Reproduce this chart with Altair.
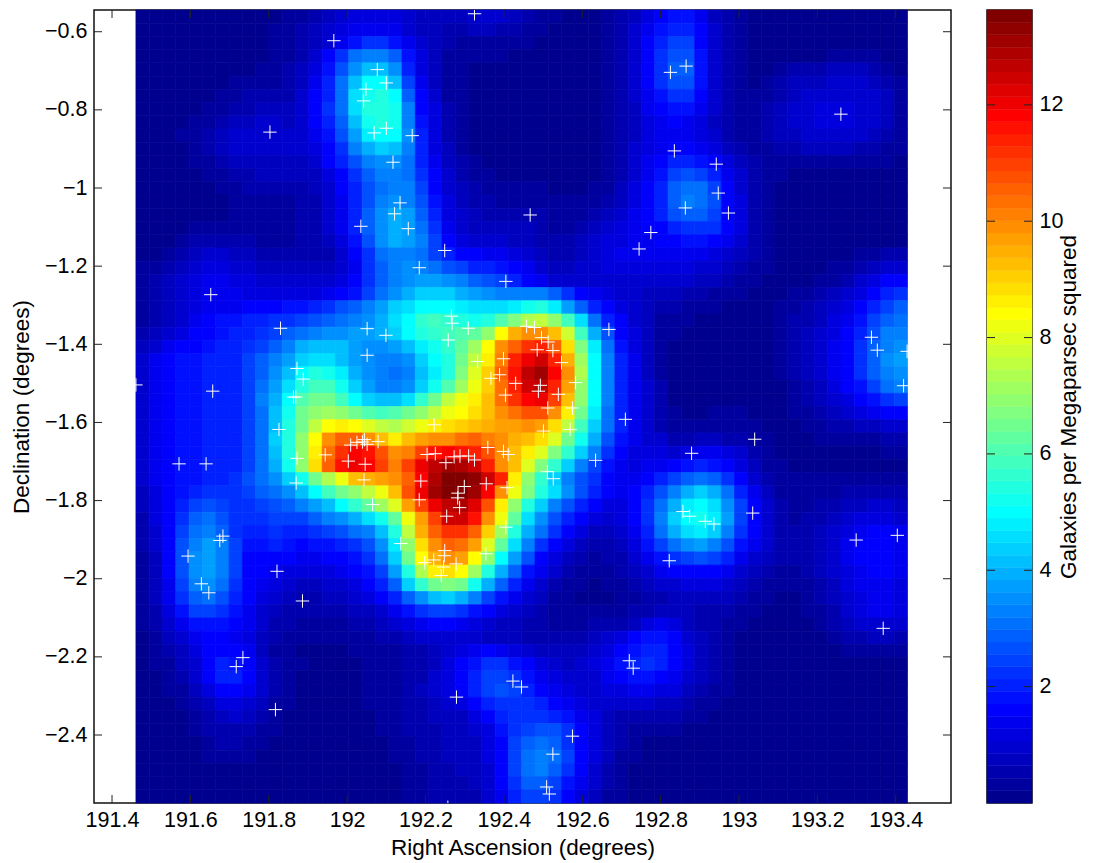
import altair as alt
import pandas as pd

ra_tick_values = [191.4, 191.6, 191.8, 192.0, 192.2, 192.4, 192.6, 192.8, 193.0, 193.2, 193.4]
dec_tick_values = [-0.6, -0.8, -1.0, -1.2, -1.4, -1.6, -1.8, -2.0, -2.2, -2.4]
bar_tick_values = [2, 4, 6, 8, 10, 12]

RA_DOMAIN = [191.354, 193.541]
DEC_DOMAIN = [-2.574, -0.5444]
IMG_RA = [191.461, 193.430]
BAR_DOMAIN = [0, 13.63]

galaxy_ra = [192.325,191.966,192.077,192.100,192.048,192.042,192.100,192.069,192.166,192.117,192.135,192.121,192.156,192.035,192.249,192.184,192.405,191.803,191.652,192.467,192.825,192.865,193.260,192.835,192.942,192.947,192.863,192.973,192.775,192.745,191.830,192.051,192.099,192.051,191.872,191.888,191.863,191.869,191.657,191.461,191.826,192.009,192.025,192.039,192.044,192.051,192.079,191.944,192.003,192.046,192.204,191.571,191.640,191.872,191.870,192.043,192.188,192.184,192.065,191.683,191.675,191.594,192.137,192.198,191.821,191.628,191.647,191.886,191.734,191.717,191.817,192.279,192.240,192.266,192.268,192.309,192.258,192.458,192.478,192.496,192.513,192.485,192.525,192.668,192.399,192.333,192.547,192.389,192.367,192.583,192.430,192.493,192.488,192.539,192.404,192.512,192.575,192.222,192.501,192.569,192.710,192.359,192.399,192.411,192.225,192.252,192.273,192.288,192.310,192.325,192.634,192.511,192.526,192.299,192.355,192.408,192.283,192.282,192.287,192.254,192.405,192.249,192.248,192.354,192.221,192.246,192.278,192.822,193.338,193.353,193.429,193.420,193.040,192.879,192.857,192.874,192.914,192.936,193.035,193.299,193.404,193.368,192.423,192.445,192.720,192.730,192.575,192.525,192.509,192.516,192.257]
galaxy_dec = [-0.554,-0.623,-0.697,-0.731,-0.747,-0.777,-0.847,-0.859,-0.866,-0.934,-1.038,-1.066,-1.104,-1.098,-1.160,-1.204,-1.239,-0.857,-1.273,-1.069,-0.704,-0.688,-0.811,-0.905,-0.939,-1.013,-1.051,-1.064,-1.114,-1.156,-1.359,-1.360,-1.377,-1.428,-1.462,-1.489,-1.535,-1.535,-1.520,-1.504,-1.618,-1.658,-1.651,-1.650,-1.644,-1.656,-1.649,-1.683,-1.699,-1.707,-1.682,-1.706,-1.706,-1.692,-1.755,-1.747,-1.750,-1.798,-1.810,-1.891,-1.902,-1.942,-1.910,-1.959,-1.981,-2.013,-2.036,-2.057,-2.202,-2.225,-2.335,-2.303,-1.992,-1.328,-1.346,-1.359,-1.389,-1.354,-1.357,-1.383,-1.394,-1.414,-1.416,-1.362,-1.437,-1.444,-1.447,-1.478,-1.487,-1.498,-1.500,-1.505,-1.520,-1.528,-1.530,-1.563,-1.563,-1.606,-1.622,-1.618,-1.592,-1.664,-1.674,-1.682,-1.680,-1.703,-1.688,-1.686,-1.686,-1.696,-1.697,-1.726,-1.744,-1.764,-1.757,-1.767,-1.781,-1.793,-1.818,-1.840,-1.868,-1.928,-1.941,-1.936,-1.952,-1.970,-1.962,-1.954,-1.382,-1.415,-1.418,-1.506,-1.643,-1.679,-1.828,-1.840,-1.853,-1.860,-1.832,-1.901,-1.889,-2.127,-2.262,-2.277,-2.210,-2.229,-2.403,-2.449,-2.533,-2.551,-2.585]

density_rows = [
[.2]*10+[.2,.3,.4,.6,.8,1,1.1,1.2,1.2,1.1, .9,.8,.7,.7,.8,1,1,.9,.7,.5, .4,.3,.2,.2,.2,.3,.5,.7,1.1,1.5, 1.8,1.8,1.3,.8,.5,.3,.2,.2,.2,.2]+[.2]*8,
[.2]*10+[.3,.4,.5,.7,.9,1.1,1.3,1.4,1.4,1.3, 1,.8,.7,.6,.6,.7,.7,.6,.5,.4, .3,.2,.2,.2,.2,.3,.5,.9,1.3,1.8, 2.1,2.1,1.5,.9,.5,.3,.2,.2,.2,.2]+[.2]*8,
[.2]*10+[.3,.4,.5,.8,1,1.4,1.8,2.2,2.2,1.9, 1.4,1,.7,.5,.4,.4,.4,.4,.3,.3, .2,.2,.2,.2,.2,.3,.5,.9,1.5,2, 2.4,2.4,1.7,1,.5,.3,.2,.2,.2,.2]+[.2]*8,
[.2]*10+[.3,.4,.6,.9,1.6,2.2,3,3.3,3.3,2.8, 1.8,1.1,.8,.4,.3,.3,.3,.3,.2,.2, .2,.2,.2,.2,.2,.3,.5,1,1.7,2.2, 2.7,2.7,1.8,1,.5,.3,.2,.2,.2,.2, .2,.2,.3,.3,.3,.3,.2,.2],
[.2]*9+[.3, .3,.5,.7,1.1,1.9,2.7,3.6,4.2,4.2,3.5, 2,1.2,.8,.4,.3,.2,.2,.2,.2,.2, .2,.2,.2,.2,.2,.3,.5,1,1.7,2.2, 2.8,2.8,1.9,1,.5,.3,.2,.2,.3,.5, .6,.6,.7,.7,.7,.6,.4,.2],
[.2]*7+[.3,.4,.4, .4,.5,.8,1.3,2,3,4.2,5,5,4.2, 2.4,1.3,.8,.4,.3,.2,.2,.2,.2,.2, .2,.2,.2,.2,.2,.3,.5,1,1.6,2.2, 2.6,2.6,1.8,1,.5,.3,.2,.3,.5,.7, .8,.8,.9,.9,.9,.8,.6,.3],
[.2]*6+[.3,.4,.5,.6, .6,.6,.9,1.5,2.1,3,4.5,5.3,5.5,4.9, 2.9,1.5,.9,.4,.3,.2,.2,.2,.2,.2, .2,.2,.2,.2,.2,.3,.5,.9,1.4,1.9, 2.2,2.2,1.6,.9,.5,.3,.3,.4,.6,.8, .9,1,1,1,1,.9,.7,.4],
[.2,.2,.2,.2,.2,.3,.4,.5,.6,.7, .7,.7,1,1.6,2.2,3,4.5,5.4,5.5,5.2, 3.2,1.7,1.1,.5,.3,.2,.2,.2,.2,.2, .2,.2,.2,.2,.2,.3,.5,.8,1.3,1.7, 1.8,1.8,1.3,.9,.5,.3,.4,.5,.7,.9, 1,1.1,1.2,1.1,1,.9,.7,.4],
[.2,.2,.2,.2,.3,.4,.6,.7,.8,.9, .9,.8,1,1.6,2.1,2.8,4.2,5.2,5.4,5.2, 3.4,1.8,1.1,.5,.3,.2,.2,.2,.2,.2, .2,.2,.2,.2,.2,.3,.5,.8,1.1,1.4, 1.5,1.4,1.1,.8,.5,.4,.4,.5,.7,.9, 1,1.1,1.1,1.1,1,.9,.7,.4],
[.2,.2,.2,.3,.4,.5,.7,.9,1,1, 1,.9,1,1.4,1.9,2.6,3.8,4.8,5.1,4.9, 3.5,2,1.2,.6,.3,.2,.2,.2,.2,.2, .2,.2,.2,.2,.2,.3,.5,.8,1.1,1.3, 1.4,1.4,1.2,.9,.6,.4,.4,.5,.7,.8, .9,1,1,1,.9,.8,.6,.3],
[.2,.2,.2,.2,.3,.5,.7,.9,1,1, .9,.9,.9,1.1,1.7,2.3,3.2,4,4.4,4.2, 3.2,2,1.2,.7,.4,.2,.2,.2,.2,.2, .2,.2,.2,.2,.2,.3,.5,.9,1.2,1.4, 1.6,1.6,1.4,1.1,.8,.5,.4,.4,.5,.6, .7,.7,.7,.7,.6,.5,.4,.3],
[.2,.2,.2,.2,.3,.4,.6,.7,.8,.8, .8,.8,.8,1,1.5,2,2.7,3.3,3.6,3.6, 3,2,1.3,.8,.5,.3,.2,.2,.2,.2, .2,.2,.2,.2,.2,.3,.5,.9,1.3,1.6, 2,2,1.8,1.5,1.1,.7,.5,.4,.3,.3, .3,.3,.3,.3,.3,.3,.3,.2],
[.2,.2,.2,.2,.2,.3,.4,.5,.6,.7, .7,.7,.7,.8,1.2,1.7,2.3,2.9,3.2,3.3, 3,2.2,1.6,.9,.6,.4,.3,.2,.2,.2, .2,.2,.2,.2,.2,.3,.6,1,1.4,1.9, 2.4,2.7,2.5,2,1.4,.9,.6,.4,.3,.2]+[.2]*8,
[.2,.2,.2,.2,.2,.2,.3,.4,.5,.5, .5,.5,.6,.7,1,1.5,2.1,2.7,3.1,3.4, 3.2,2.4,1.7,1,.7,.5,.4,.3,.3,.3, .3,.2,.2,.2,.3,.4,.7,1.1,1.5,2.1, 2.8,3.1,3,2.4,1.6,1,.6,.4,.2,.2]+[.2]*8,
[.2,.2,.2,.2,.2,.2,.2,.3,.4,.4, .4,.4,.5,.6,.9,1.4,2,2.7,3.3,3.6, 3.4,2.6,1.8,1.1,.8,.6,.5,.4,.4,.4, .4,.3,.3,.3,.4,.5,.8,1.2,1.6,2.1, 2.9,3.2,3.1,2.6,1.7,1.1,.6,.4,.2,.2]+[.2]*8,
[.2,.2,.2,.2,.2,.2,.2,.3,.3,.3, .3,.4,.5,.6,.9,1.3,2,2.8,3.6,3.9, 3.7,2.9,2,1.2,.9,.7,.6,.6,.6,.6, .5,.3,.3,.4,.5,.7,.9,1.3,1.6,2, 2.6,2.9,2.9,2.5,1.7,1.1,.6,.4,.2,.2]+[.2]*8,
[.2,.2,.2,.2,.3,.4,.4,.4,.3,.3, .3,.3,.5,.6,.9,1.3,2,2.8,3.6,4, 3.8,3.1,2.2,1.4,1,.8,.8,.8,.7,.7, .5,.4,.4,.5,.7,.9,1.1,1.3,1.5,1.7, 2.1,2.3,2.3,2.2,1.6,1.1,.6,.4,.2,.2]+[.2]*8,
[.2,.2,.2,.3,.5,.6,.6,.6,.5,.4, .4,.4,.5,.6,.8,1.2,1.9,2.7,3.5,3.9, 3.8,3.2,2.5,1.7,1.2,1,1,.9,.8,.7, .6,.5,.5,.7,.9,1.1,1.2,1.3,1.4,1.5, 1.7,1.8,1.8,1.7,1.4,1,.6,.4,.2,.2]+[.2]*8,
[.2,.2,.4,.6,.8,.9,.9,.8,.7,.6, .5,.5,.5,.5,.6,.9,1.5,2.3,3,3.4, 3.4,3,2.5,2,1.7,1.5,1.4,1.3,1.2,1, .8,.6,.6,.8,1,1.2,1.3,1.3,1.3,1.3, 1.3,1.4,1.3,1.2,1,.8,.5,.3,.2,.2, .2,.2,.2,.2,.3,.4,.5,.5],
[.3,.4,.6,.8,1,1.1,1.1,1,.9,.8, .7,.7,.7,.7,.7,.9,1.4,2.2,2.9,3.3, 3.5,3.3,3,2.7,2.4,2.1,2,1.8,1.6,1.3, 1,.8,.8,.9,1,1.1,1.1,1.1,1.1,1.1, 1.1,1.1,1,.9,.8,.6,.4,.3,.2,.2, .2,.2,.3,.4,.6,.8,1,1],
[.4,.5,.8,1,1.2,1.3,1.3,1.2,1.1,1, .9,.9,.9,.9,.9,1.1,1.5,2.2,2.9,3.3, 3.6,3.8,3.8,3.6,3.2,2.9,2.7,2.4,2.1,1.7, 1.3,1,.9,.9,1,1,1,1,1,1, .9,.9,.8,.7,.6,.4,.3,.2,.2,.2, .2,.3,.4,.6,.9,1.2,1.5,1.7],
[.4,.5,.7,.9,1.1,1.3,1.3,1.3,1.2,1.2, 1.1,1.1,1.1,1.2,1.3,1.5,1.9,2.4,3,3.6, 4,4.3,4.4,4.3,4,3.8,3.5,3.4,3.3,3.4, 3.3,2.8,2.2,1.7,1.4,1.2,1,.9,.8,.8, .7,.6,.5,.4,.3,.3,.2,.2,.2,.3, .3,.5,.7,.9,1.2,1.6,2,2.2],
[.4,.5,.7,.9,1.1,1.3,1.4,1.4,1.5,1.6, 1.7,1.8,1.9,2.1,2.3,2.6,2.9,3.3,3.7,4.3, 4.6,5,5.1,5,4.8,4.6,4.6,4.6,4.8,5.2, 5.4,4.8,3.8,2.9,2,1.6,1.2,.9,.7,.5, .5,.4,.4,.3,.2,.2,.2,.2,.3,.4, .5,.7,.9,1.2,1.6,2,2.5,2.8],
[.4,.5,.8,1,1.3,1.5,1.8,1.9,2,2.1, 2.2,2.3,2.4,2.6,2.8,3,3.2,3.5,4,4.5, 5,5.6,5.8,5.6,5.4,5.3,5.5,6,6.8,7.4, 7.6,7,5.9,4.5,3.1,2.1,1.5,1,.7,.4, .3,.3,.2,.2,.2,.2,.2,.2,.3,.5, .6,.8,1.1,1.4,1.9,2.4,2.9,3.1],
[.5,.7,1,1.2,1.5,1.7,1.9,2,2.1,2.3, 2.5,2.8,3.1,3.4,3.6,3.6,3.7,3.8,4,4.4, 4.9,5.4,5.7,5.9,6,6.2,7,8.4,9.4,9.8, 9.9,9.2,7.7,5.8,4,2.6,1.7,1.1,.7,.4, .3,.2,.2,.2,.2,.2,.2,.2,.3,.5, .7,.9,1.2,1.6,2.1,2.7,3.2,3.4],
[.7,1,1.3,1.5,1.7,1.8,2,2.1,2.3,2.5, 2.9,3.4,3.9,4.2,4.2,4.1,3.8,3.6,3.6,3.8, 4.2,4.7,5.2,5.7,6.3,7.1,8.4,9.8,10.6,11.2, 11.3,10.5,8.9,6.8,4.7,3,1.9,1.2,.7,.4, .2,.2,.2,.2,.2,.2,.2,.2,.3,.5, .7,.9,1.3,1.7,2.2,2.8,3.4,3.6],
[.9,1.3,1.7,1.8,1.9,2,2,2.1,2.4,2.9, 3.3,3.8,4.4,4.6,4.5,4.2,3.8,3.5,3.3,3.3, 3.6,4.3,4.9,5.5,6.6,7.6,8.7,10.2,11.3,12, 12.4,11.3,9.4,7.2,4.9,3.2,2,1.3,.8,.4, .2,.2,.2,.2,.2,.2,.2,.2,.3,.5, .7,.9,1.3,1.7,2.3,2.9,3.5,3.7],
[.9,1.3,1.7,1.8,1.9,2,2,2.1,2.4,2.9, 3.5,4.2,5,5.4,5.3,4.8,4,3.5,3.2,3.1, 3.4,4.2,4.8,5.5,6.8,8,9,10.5,11.6,12.6, 13,11.8,9.8,7.4,5,3.2,2,1.3,.8,.4, .2,.2,.2,.2,.2,.2,.2,.2,.3,.5, .7,.9,1.3,1.7,2.2,2.8,3.4,3.6],
[.9,1.3,1.7,1.8,1.9,2,2,2.1,2.4,3, 3.7,4.6,5.5,5.9,5.9,5.3,4.4,3.7,3.3,3.2, 3.6,4.4,5.2,6,7.2,8.2,9.1,10.4,11.5,12.4, 12.6,11.5,9.6,7,5,3.2,2,1.3,.9,.6, .2,.2,.2,.2,.2,.2,.2,.2,.2,.4, .6,.8,1.2,1.5,1.9,2.4,3,3.2],
[.9,1.3,1.7,1.8,1.9,2,2,2.1,2.5,3.2, 4,5.1,6.1,6.5,6.4,5.8,5,4.4,4.1,4.1, 4.6,5.6,6.6,7.5,8.3,8.7,9.3,10.3,11.2,11.9, 12,11,9.2,6.9,4.9,3.2,2,1.3,.9,.5, .2,.2,.2,.2,.2,.2,.2,.2,.2,.3, .5,.7,1,1.2,1.5,1.9,2.3,2.5],
[.9,1.3,1.7,1.8,1.9,2,2,2.1,2.5,3.1, 4.1,5.2,6.4,7,7.2,7,6.5,6,5.8,6, 6.4,7,7.6,8.1,8.4,8.8,9.3,9.9,10.3,10.7, 10.8,10,8.7,6.6,4.8,3.1,2,1.3,.9,.6, .3,.2,.2,.3,.3,.3,.2,.2,.2,.3, .4,.5,.7,.9,1.1,1.3,1.6,1.7],
[.9,1.3,1.7,1.8,1.9,2,2,2.1,2.4,3.1, 4.2,5.4,6.6,7.6,8.4,8.7,8.5,8,7.5,7.4, 7.7,8.2,8.6,8.8,9,9.3,9.5,9.7,9.7,9.8, 9.6,8.9,7.6,5.9,4.4,3,2,1.3,.9,.6, .4,.3,.3,.3,.3,.3,.3,.2,.2,.2, .3,.4,.5,.6,.7,.8,.9,1],
[.9,1.3,1.7,1.8,1.9,2,2,2.1,2.4,3.1, 4.3,5.5,6.9,8.5,9.9,10.6,10.6,10,9.2,8.7, 9.2,9.6,9.9,10,10.4,10.5,10.2,9.9,9.5,9.2, 8.8,7.9,6.6,5.2,3.9,2.7,1.9,1.3,1,.9, .6,.6,.7,.7,.6,.5,.4,.3,.2,.2, .2,.3,.3,.4,.4,.4,.5,.5],
[.9,1.3,1.7,1.8,1.9,2,2,2.1,2.4,3, 4.2,5.4,6.9,8.6,10.3,11.2,11.8,11.6,10.8,10, 10.2,10.9,11.6,11.8,11.7,11.3,10.7,10,9.3,8.6, 7.9,6.8,5.6,4.4,3.2,2.3,1.6,1.2,1.1,1.1, 1,1.2,1.3,1.3,1.1,.9,.6,.4,.2,.2, .2,.2,.2,.2,.2,.2,.3,.3],
[.9,1.3,1.7,1.8,1.9,2,2,2.1,2.4,3, 4,5.3,6.9,8.8,10.6,11.7,12,11.8,11,10.2, 11,12,12.7,13,12.9,12.4,11.4,10,9.2,8, 6.8,5.6,4.4,3.2,2.4,1.8,1.3,1.2,1.3,1.4, 1.6,1.8,2,1.9,1.6,1.2,.8,.4,.3,.2]+[.2]*8,
[.9,1.3,1.7,1.8,1.9,2,2,2.2,2.6,3, 3.6,4.4,5.2,6.4,7.4,8.3,9.2,9.4,9.6,10, 10.6,11.9,12.9,13.5,13.6,13.3,12.5,11.3,8.6,7, 5.6,4.4,3.3,2.6,2.2,1.7,1.4,1.4,1.7,2, 2.4,2.8,3,2.8,2.2,1.6,1,.6,.3,.3]+[.3]*8,
[.8,1.2,1.6,1.9,2.1,2.2,2.2,2.2,2.4,2.8, 3,3.5,4.2,5,5.8,6.4,7,7.6,8.3,9.3, 10.8,12,13,13.6,13.6,13,11.8,10,8.2,6.8, 5.5,4.5,3.5,2.7,2,1.5,1.3,1.5,2,2.7, 3.3,4,4.3,3.9,3,2.1,1.3,.8,.4,.3, .3,.3,.4,.5,.5,.5,.5,.5],
[.7,1.1,1.6,2,2.4,2.6,2.4,2.2,2.3,2.4, 2.6,2.8,3.2,3.7,4.2,4.9,5.6,6.3,7.1,7.9, 9.6,11,12,12.7,12.8,12.2,10.8,8.7,7,5.4, 4.4,3.4,2.6,2,1.5,1.2,1.2,1.5,2.2,3.1, 4,4.7,5,4.5,3.5,2.4,1.5,.9,.5,.3, .4,.5,.6,.7,.8,.9,.9,.8],
[.6,1.1,1.6,2.2,2.8,3,2.7,2.3,2.2,2.3, 2.4,2.4,2.5,2.8,3.2,3.6,4,4.6,5.3,6.3, 8.2,9.7,11,12.4,12.4,11.7,9.9,8.2,6.2,4.6, 3.5,2.7,2,1.5,1.2,1,1.1,1.5,2.3,3.3, 4.3,5,5.2,4.8,3.7,2.5,1.6,1,.6,.4, .5,.6,.8,1,1.1,1.2,1.2,1],
[.5,1,1.6,2.4,3.1,3.3,2.9,2.3,2.1,2.1, 2.2,2.1,2.1,2.2,2.4,2.7,3,3.4,4.2,5.4, 7.5,9.4,10.5,11.2,11.2,10.5,9,7.2,5.4,4, 3,2.2,1.5,1.1,.8,.8,1,1.4,2.1,3, 4,4.6,4.8,4.4,3.4,2.3,1.5,1,.6,.5, .6,.7,.9,1.2,1.4,1.5,1.5,1.3],
[.5,.9,1.6,2.6,3.4,3.7,3.2,2.4,1.9,1.9, 2,1.8,1.7,1.8,1.9,2.1,2.3,2.7,3.5,4.8, 7,8.9,10,10.6,10.4,9.7,8,6.2,4.6,3.3, 2.3,1.6,1.1,.7,.6,.6,.8,1.2,1.8,2.4, 3.1,3.6,3.7,3.4,2.6,1.8,1.3,.9,.6,.5, .6,.8,1,1.3,1.5,1.6,1.6,1.4],
[.4,.8,1.6,2.7,3.6,3.8,3.3,2.4,1.7,1.7, 1.7,1.5,1.4,1.4,1.5,1.7,1.9,2.2,3,4.4, 6.5,8.4,9.5,9.9,9.7,8.5,6.9,5,3.7,2.6, 1.7,1.2,.8,.5,.4,.5,.6,.9,1.3,1.8, 2.2,2.5,2.6,2.4,2,1.4,1,.7,.5,.5, .6,.8,1,1.3,1.5,1.6,1.6,1.4],
[.4,.8,1.6,2.7,3.6,3.8,3.2,2.4,1.7,1.5, 1.4,1.2,1.1,1.1,1.2,1.3,1.5,1.8,2.5,3.7, 5.4,7.4,8.6,8.9,8.5,7.1,5.4,4,2.8,1.9, 1.3,.9,.6,.4,.3,.3,.5,.7,1,1.3, 1.5,1.7,1.7,1.6,1.3,1,.7,.5,.4,.4, .5,.7,.9,1.2,1.4,1.5,1.5,1.3],
[.3,.7,1.4,2.5,3.3,3.5,3,2.3,1.7,1.3, 1.1,.9,.8,.8,.9,1,1.2,1.5,2,2.9, 4.3,5.6,6.6,6.8,6.4,5.2,4,2.9,2,1.4, .9,.6,.4,.3,.2,.3,.4,.5,.7,.9, 1,1.1,1.2,1.1,.9,.7,.5,.4,.3,.3, .4,.6,.8,1.1,1.3,1.4,1.4,1.2],
[.3,.7,1.3,2.2,2.9,3.1,2.7,2.1,1.6,1.2, .9,.7,.6,.6,.7,.8,.9,1.1,1.5,2, 2.8,3.6,4.2,4.3,4,3.3,2.5,1.9,1.4,1, .7,.4,.3,.2,.2,.2,.3,.4,.5,.6, .7,.8,.8,.8,.7,.5,.4,.3,.2,.2, .3,.5,.7,1,1.2,1.3,1.3,1.2],
[.3,.6,1.1,1.8,2.4,2.5,2.2,1.8,1.4,1, .8,.6,.5,.5,.5,.6,.7,.8,1,1.3, 1.8,2.2,2.5,2.5,2.3,1.9,1.5,1.2,.9,.7, .5,.3,.3,.3,.3,.4,.4,.5,.6,.7, .7,.7,.6,.6,.5,.4,.3,.2,.2,.2, .3,.4,.6,.9,1.1,1.3,1.3,1.2],
[.3,.5,.9,1.4,1.8,1.9,1.8,1.5,1.3,.9, .6,.5,.4,.4,.4,.4,.5,.6,.7,.9, 1.2,1.4,1.5,1.5,1.3,1.1,.9,.8,.7,.6, .5,.4,.4,.4,.5,.6,.6,.8,1.1,1.3, 1.1,.8,.6,.5,.4,.3,.2,.2,.2,.2, .2,.3,.5,.7,.9,1,1,.9],
[.2,.4,.7,1,1.3,1.5,1.5,1.4,1.2,.8, .5,.4,.3,.3,.3,.3,.3,.4,.5,.6, .8,.9,.9,1,.9,.9,.8,.7,.7,.6, .5,.5,.5,.6,.7,.9,1.2,1.6,1.9,1.9, 1.5,1,.7,.5,.3,.2,.2,.2,.2,.2, .2,.2,.3,.5,.6,.7,.7,.6],
[.2,.3,.5,.8,1.1,1.5,1.7,1.6,1.3,.7, .4,.3,.2,.2,.2,.2,.3,.3,.4,.4, .5,.6,.8,1,1.2,1.4,1.5,1.4,1.2,1, .8,.7,.7,.8,1,1.2,1.6,1.9,2.1,2.1, 1.7,1.1,.7,.5,.3,.2,.2,.2,.2,.2, .2,.2,.2,.3,.3,.4,.4,.4],
[.2,.3,.4,.7,1,1.6,2,1.9,1.5,1, .6,.4,.3,.2,.2,.2,.2,.3,.4,.4, .5,.6,.8,1.1,1.5,1.9,2.2,2.2,1.9,1.5, 1.1,.9,.8,.9,1.1,1.4,1.8,2.1,2.2,2.1, 1.7,1.1,.7,.5,.3,.2,.2,.2,.2,.2]+[.2]*8,
[.2,.2,.4,.6,.9,1.5,2,2,1.5,1, .6,.4,.2,.2,.2,.2,.2,.3,.3,.4, .5,.6,.9,1.2,1.6,2.1,2.4,2.5,2.3,1.8, 1.4,1.1,.9,.9,1,1.3,1.6,1.8,1.8,1.7, 1.4,1,.7,.5,.3,.2,.2,.2,.2,.2]+[.2]*8,
[.2,.2,.3,.4,.7,1.1,1.6,1.7,1.3,.9, .5,.3,.2,.2,.2,.2,.2,.3,.3,.4, .5,.7,.9,1.2,1.5,2,2.4,2.6,2.5,2.1, 1.7,1.3,1.1,1,1,1.1,1.2,1.3,1.3,1.2, 1.1,.8,.6,.4,.3,.2,.2,.2,.2,.2]+[.2]*8,
[.2,.2,.2,.3,.5,.8,1.1,1.2,1,.7, .4,.3,.2,.2,.2,.2,.2,.3,.3,.4, .5,.6,.8,1,1.2,1.6,2.1,2.3,2.3,2.2, 2,1.7,1.4,1.2,1,.9,.9,.9,.9,.8, .7,.6,.4,.3,.2,.2,.2,.2,.2,.2]+[.2]*8,
[.2,.2,.2,.2,.4,.6,.8,.9,.8,.5, .3,.2,.2,.2,.2,.2,.2,.2,.3,.4, .5,.6,.7,.8,.8,1.1,1.6,2,2.2,2.2, 2.2,2.1,1.8,1.4,1.1,.8,.6,.6,.5,.5, .5,.4,.3,.2,.2,.2,.2,.2,.2,.2]+[.2]*8,
[.2,.2,.2,.2,.3,.5,.6,.6,.6,.4, .3,.2,.2,.2,.2,.2,.2,.2,.3,.4, .5,.6,.6,.7,.7,.9,1.2,1.8,2.2,2.5, 2.7,2.6,2.2,1.7,1.2,.8,.5,.4,.3,.3, .3,.2,.2,.2,.2,.2,.2,.2,.2,.2]+[.2]*8,
[.2,.2,.2,.2,.2,.4,.5,.5,.4,.3, .2,.2,.2,.2,.2,.2,.2,.2,.2,.3, .4,.5,.6,.7,.7,.8,1.1,1.7,2.4,2.9, 3.1,2.9,2.3,1.7,1.2,.8,.5,.3,.2,.2]+[.2]*18,
[.2,.2,.2,.2,.2,.3,.4,.4,.3,.2, .2,.2,.2,.2,.2,.2,.2,.2,.2,.3, .4,.5,.6,.7,.7,.8,1.1,1.7,2.5,3.1, 3.3,3,2.4,1.7,1.1,.7,.4,.3,.2,.2]+[.2]*18,
[.2]*20+[.3,.4,.5,.6,.7,.7,1,1.7,2.5,3.1, 3.2,2.9,2.2,1.5,1,.6,.3,.2,.2,.2]+[.2]*18,
[.2]*20+[.3,.4,.5,.6,.6,.7,.9,1.6,2.3,2.8, 2.9,2.5,1.9,1.3,.9,.5,.3,.2,.2,.2]+[.2]*18,
[.2]*20+[.3,.4,.5,.6,.6,.6,.9,1.4,2,2.4, 2.5,2.2,1.7,1.1,.7,.4,.3,.2,.2,.2]+[.2]*18,
]

FONT = "Liberation Sans"
INK = "#000000"
PLOT_W, PLOT_H = 857, 793
BAR_W = 45
TICK_LEN = 8


def jet(i, n=64):
    t = (i + 1) / n
    clip = lambda v: max(0.0, min(1.0, v))
    r = clip(min(4 * t - 1.5, -4 * t + 4.5))
    g = clip(min(4 * t - 0.5, -4 * t + 3.5))
    b = clip(min(4 * t + 0.5, -4 * t + 2.5))
    return "#%02x%02x%02x" % (round(r * 255), round(g * 255), round(b * 255))


jet_colors = [jet(i) for i in range(64)]
color_scale = alt.Scale(type="quantize", domain=BAR_DOMAIN, range=jet_colors)

n_rows = len(density_rows)
cells = []
for r, row in enumerate(density_rows):
    n_cols = len(row)
    for c, v in enumerate(row):
        cells.append({
            "ra0": IMG_RA[0] + (IMG_RA[1] - IMG_RA[0]) * c / n_cols,
            "ra1": IMG_RA[0] + (IMG_RA[1] - IMG_RA[0]) * (c + 1) / n_cols,
            "dec0": DEC_DOMAIN[1] - (DEC_DOMAIN[1] - DEC_DOMAIN[0]) * r / n_rows,
            "dec1": DEC_DOMAIN[1] - (DEC_DOMAIN[1] - DEC_DOMAIN[0]) * (r + 1) / n_rows,
            "v": v,
        })
cells = pd.DataFrame(cells)
galaxies = pd.DataFrame({"ra": galaxy_ra, "dec": galaxy_dec})

x_scale = alt.Scale(domain=RA_DOMAIN, nice=False, zero=False)
y_scale = alt.Scale(domain=DEC_DOMAIN, nice=False, zero=False)

x_axis = alt.Axis(values=ra_tick_values, format=".1~f", grid=False, domain=False, ticks=False,
                  labelFont=FONT, labelFontSize=21.5, labelColor=INK, labelPadding=6,
                  title="Right Ascension (degrees)", titleFont=FONT, titleFontSize=22.5,
                  titleFontWeight="normal", titleColor=INK, titlePadding=6, labelFlush=False)
y_axis = alt.Axis(values=dec_tick_values, format=".1~f", grid=False, domain=False, ticks=False,
                  labelFont=FONT, labelFontSize=21.5, labelColor=INK, labelPadding=7,
                  title="Declination (degrees)", titleFont=FONT, titleFontSize=22.5,
                  titleFontWeight="normal", titleColor=INK, titlePadding=11)

heat = alt.Chart(cells).mark_rect(strokeWidth=0.7).encode(
    x=alt.X("ra0:Q", scale=x_scale, axis=x_axis),
    x2="ra1:Q",
    y=alt.Y("dec1:Q", scale=y_scale, axis=y_axis),
    y2="dec0:Q",
    color=alt.Color("v:Q", scale=color_scale, legend=None),
    stroke=alt.Stroke("v:Q", scale=color_scale, legend=None),
)

ra_df = pd.DataFrame({"t": ra_tick_values})
dec_df = pd.DataFrame({"t": dec_tick_values})
tick_style = dict(color="#222222", strokeWidth=1)
x_bottom = alt.Chart(ra_df).mark_rule(**tick_style).encode(
    x=alt.X("t:Q", scale=x_scale), y=alt.value(PLOT_H), y2=alt.value(PLOT_H - TICK_LEN))
x_top = alt.Chart(ra_df).mark_rule(**tick_style).encode(
    x=alt.X("t:Q", scale=x_scale), y=alt.value(0), y2=alt.value(TICK_LEN))
y_left = alt.Chart(dec_df).mark_rule(**tick_style).encode(
    y=alt.Y("t:Q", scale=y_scale), x=alt.value(0), x2=alt.value(TICK_LEN))
y_right = alt.Chart(dec_df).mark_rule(**tick_style).encode(
    y=alt.Y("t:Q", scale=y_scale), x=alt.value(PLOT_W), x2=alt.value(PLOT_W - TICK_LEN))

plus = alt.Chart(galaxies).mark_point(
    shape="M-1,0L1,0M0,-1L0,1", stroke="white", strokeWidth=1, filled=False, opacity=1, size=180, clip=True
).encode(
    x=alt.X("ra:Q", scale=x_scale),
    y=alt.Y("dec:Q", scale=y_scale),
)

main = alt.layer(heat, x_bottom, x_top, y_left, y_right, plus).properties(width=PLOT_W, height=PLOT_H)

levels = pd.DataFrame({"i": list(range(64))})
levels["lo"] = BAR_DOMAIN[0] + levels["i"] * (BAR_DOMAIN[1] - BAR_DOMAIN[0]) / 64
levels["hi"] = BAR_DOMAIN[0] + (levels["i"] + 1) * (BAR_DOMAIN[1] - BAR_DOMAIN[0]) / 64
levels["mid"] = (levels["lo"] + levels["hi"]) / 2
bar_scale = alt.Scale(domain=BAR_DOMAIN, nice=False, zero=False)
bar_axis = alt.Axis(orient="right", values=bar_tick_values, format="d", grid=False, domain=False, ticks=False,
                    labelFont=FONT, labelFontSize=21.5, labelColor=INK, labelPadding=7,
                    title="Galaxies per Megaparsec squared", titleFont=FONT, titleFontSize=22.5,
                    titleFontWeight="normal", titleColor=INK, titleAngle=270, titlePadding=18)
bar = alt.Chart(levels).mark_rect(strokeWidth=0.5).encode(
    x=alt.value(0), x2=alt.value(BAR_W),
    y=alt.Y("lo:Q", scale=bar_scale, axis=bar_axis),
    y2="hi:Q",
    color=alt.Color("mid:Q", scale=color_scale, legend=None),
    stroke=alt.Stroke("mid:Q", scale=color_scale, legend=None),
)
bar_df = pd.DataFrame({"t": bar_tick_values})
bar_left = alt.Chart(bar_df).mark_rule(**tick_style).encode(
    y=alt.Y("t:Q", scale=bar_scale), x=alt.value(0), x2=alt.value(TICK_LEN))
bar_right = alt.Chart(bar_df).mark_rule(**tick_style).encode(
    y=alt.Y("t:Q", scale=bar_scale), x=alt.value(BAR_W), x2=alt.value(BAR_W - TICK_LEN))
colorbar = alt.layer(bar, bar_left, bar_right).properties(width=BAR_W, height=PLOT_H)

chart = alt.hconcat(main, colorbar, spacing=32).resolve_scale(color="independent", stroke="independent").configure_view(
    stroke="#111111", strokeWidth=1.5
).properties(padding={"left": 1, "top": 0, "right": 0, "bottom": 0}, background="white")

chart.save("out.html", embed_options={"renderer": "svg", "actions": False})
